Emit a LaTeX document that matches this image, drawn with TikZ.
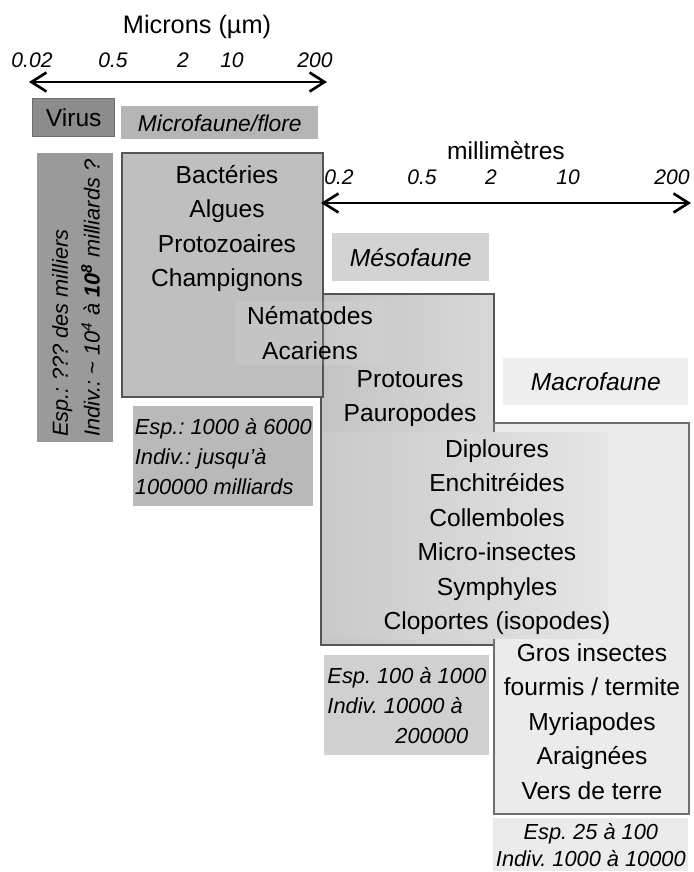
\documentclass[tikz,border=0pt]{standalone}
\usepackage{fontspec}
\setmainfont{Liberation Sans}
\usetikzlibrary{arrows.meta,positioning}
\frenchspacing

\definecolor{virusgray}{HTML}{8C8C8C}
\definecolor{virusline}{HTML}{6E6E6E}
\definecolor{virusstat}{HTML}{9A9A9A}
\definecolor{microgray}{HTML}{BFBFBF}
\definecolor{microtag}{HTML}{B5B5B5}
\definecolor{microstat}{HTML}{B9B9B9}
\definecolor{mesoleft}{HTML}{C4C4C4}
\definecolor{mesoright}{HTML}{D8D8D8}
\definecolor{mesotag}{HTML}{D3D3D3}
\definecolor{mesostat}{HTML}{D0D0D0}
\definecolor{midleft}{HTML}{C9C9C9}
\definecolor{midright}{HTML}{E5E5E5}
\definecolor{macrogray}{HTML}{EBEBEB}
\definecolor{macrotag}{HTML}{EEEEEE}
\definecolor{boxline}{HTML}{555555}

\begin{document}
\begin{tikzpicture}[
      x=0.02cm,y=-0.02cm,
      grp/.style={rectangle,anchor=north west,inner sep=0pt},
      taxa/.style={font=\fontsize{14}{19.6}\selectfont,align=center,inner sep=0pt},
      tag/.style={grp,font=\fontsize{13.5}{16}\selectfont\itshape},
      stat/.style={font=\fontsize{12.4}{17.2}\selectfont\itshape},
      tick/.style={font=\fontsize{12}{14}\selectfont\itshape,inner sep=0pt},
      scalearrow/.style={{Straight Barb[length=3mm,width=3.8mm]}-{Straight Barb[length=3mm,width=3.8mm]},line width=1.5pt}
    ]
    \useasboundingbox (0,0) rectangle (693,872);

    % microns scale
    \node[taxa,font=\fontsize{14.4}{17}\selectfont] (microns) at (197,27) {Microns (µm)};
    \node[tick] (um002) at (32,60) {0.02};
    \node[tick] (um05) at (113,60) {0.5};
    \node[tick] (um2) at (183,60) {2};
    \node[tick] (um10) at (232,60) {10};
    \node[tick] (um200) at (315,60) {200};
    \coordinate (umL) at (29,82);
    \coordinate (umR) at (327,82);
    \draw[scalearrow] (umL) -- (umR);

    % virus
    \node[tag,font=\fontsize{14}{16}\selectfont,fill=virusgray,draw=virusline,line width=0.8pt,
      minimum width=1.64cm,minimum height=0.76cm] (virus) at (32,98) {Virus};
    \node[grp,fill=virusstat,minimum width=1.52cm,minimum height=5.78cm] (virusbox) at (37,153) {};
    \node[stat,rotate=90,anchor=west,align=left,inner sep=0pt,font=\fontsize{12.4}{18}\selectfont\itshape]
      (virusnum) at (76,437) {Esp.: ??? des milliers\\Indiv.: \textasciitilde{} 10\textsuperscript{4} à \textbf{10\textsuperscript{8}} milliards ?};

    % microfaune / flore
    \node[tag,font=\fontsize{13}{16}\selectfont\itshape,fill=microtag,minimum width=3.94cm,minimum height=0.66cm]
      (microlbl) at (121,106) {Microfaune/flore};
    \node[grp,shading=axis,left color=mesoleft,right color=mesoright,draw=boxline,line width=1pt,
      minimum width=3.46cm,minimum height=7.02cm] (mesobox) at (320,293) {};
    \node[grp,fill=microgray,draw=boxline,line width=1pt,minimum width=4.02cm,minimum height=4.88cm]
      (microbox) at (121,152) {};
    \node[taxa] (microlist) at (227,228.5) {Bactéries\\Algues\\Protozoaires\\Champignons};
    \node[taxa,fill=white,fill opacity=0.09,text opacity=1,inner xsep=7pt,inner ysep=3pt]
      (nemat) at (310,333) {Nématodes\\Acariens};
    \node[grp,stat,fill=microstat,minimum width=3.6cm,minimum height=2cm,align=left]
      (microstat) at (133,406) {Esp.: 1000 à 6000\\Indiv.: jusqu’à\\100000 milliards};

    % millimetres scale
    \node[taxa] (mm) at (506,151) {millimètres};
    \node[tick] (mm02) at (339,177) {0.2};
    \node[tick] (mm05) at (422,177) {0.5};
    \node[tick] (mm2) at (491,177) {2};
    \node[tick] (mm10) at (568,177) {10};
    \node[tick] (mm200) at (672,177) {200};
    \coordinate (mmL) at (321,203);
    \coordinate (mmR) at (691,203);
    \draw[scalearrow] (mmL) -- (mmR);

    % mesofaune
    \node[tag,font=\fontsize{14}{16}\selectfont\itshape,fill=mesotag,minimum width=3.14cm,minimum height=0.96cm]
      (mesolbl) at (332,233) {Mésofaune};
    \node[taxa] (protolist) at (410,398.5) {Protoures\\Pauropodes};

    % macrofaune
    \node[tag,font=\fontsize{14}{16}\selectfont\itshape,fill=macrotag,minimum width=3.7cm,minimum height=0.94cm]
      (macrolbl) at (503,358) {Macrofaune};
    \node[grp,fill=macrogray,draw=boxline!85!white,line width=1pt,minimum width=3.9cm,minimum height=7.82cm]
      (macrobox) at (493,422) {};
    \node[grp,shading=axis,left color=midleft,right color=midright,minimum width=5.7cm,minimum height=4.12cm]
      (midband) at (322,432) {};
    \node[taxa] (mesolist) at (497,537) {Diploures\\Enchitréides\\Collemboles\\Micro-insectes\\Symphyles\\Cloportes (isopodes)};
    \node[grp,stat,fill=mesostat,minimum width=3.3cm,minimum height=2cm,align=left]
      (mesostat) at (324,655) {Esp. 100 à 1000\\Indiv. 10000 à\\\hspace*{1.36cm}200000};
    \node[taxa] (macrolist) at (592,721.5) {Gros insectes\\fourmis / termite\\Myriapodes\\Araignées\\Vers de terre};
    \node[grp,stat,fill=macrogray,minimum width=3.9cm,minimum height=1.06cm,align=center,
      font=\fontsize{12.4}{15.2}\selectfont\itshape] (macrostat) at (493,818) {Esp. 25 à 100\\Indiv. 1000 à 10000};
  \end{tikzpicture}
\end{document}
